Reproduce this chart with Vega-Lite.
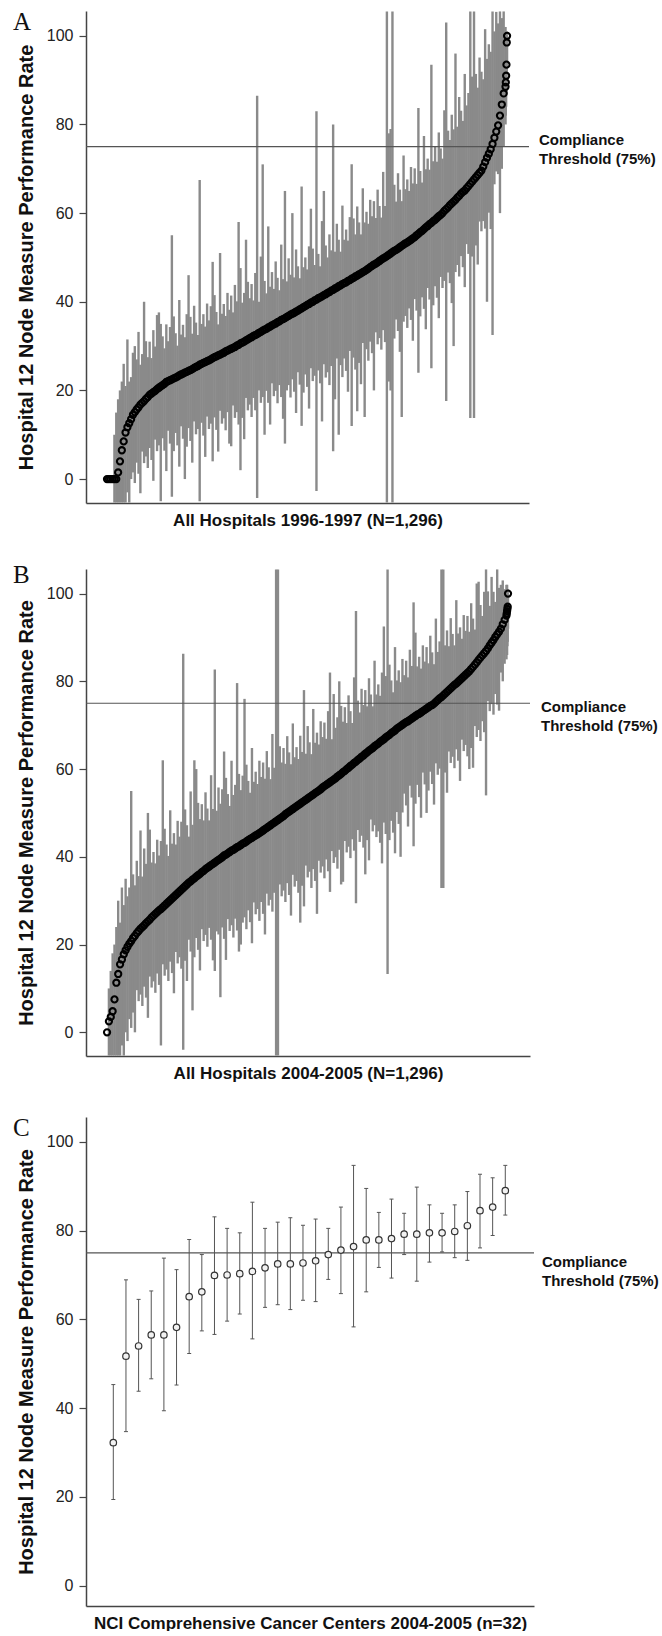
{
"$schema":"https://vega.github.io/schema/vega-lite/v6.json",
"background":"white",
"padding":{"left":13,"top":10,"right":0,"bottom":0},
"spacing":35,
"config":{"view":{"stroke":null},"font":"Liberation Sans",
"axis":{"grid":false,"domainColor":"#444","domainWidth":1.5,"tickColor":"#444","tickWidth":1.2,"labelFont":"Liberation Sans","titleFont":"Liberation Sans","labelColor":"#222","titleColor":"#111"},
"axisX":{"labels":false,"ticks":false,"titleFontSize":17,"titleFontWeight":"bold","titlePadding":9},
"axisY":{"tickSize":7,"labelFontSize":16,"labelPadding":6,"titleFontSize":20,"titleFontWeight":"bold","titlePadding":10}},
"datasets":{
"a":[{"r":1,"p":0,"l":0,"h":0},{"r":7,"p":0,"l":0,"h":0},{"r":13,"p":0,"l":0,"h":0},{"r":19,"p":0,"l":0,"h":0},{"r":25,"p":0,"l":-5.3,"h":10},{"r":31,"p":0,"l":-5.3,"h":15},{"r":37,"p":1.5,"l":-5.3,"h":18},{"r":43,"p":4,"l":-5.3,"h":20},{"r":49,"p":6.5,"l":-5.3,"h":22},{"r":55,"p":8.5,"l":-5.3,"h":26},{"r":61,"p":10.5,"l":-5.3,"h":21},{"r":67,"p":11.7,"l":-3,"h":31.5},{"r":73,"p":12.6,"l":-5.3,"h":22},{"r":79,"p":13.5,"l":0,"h":23},{"r":85,"p":14.5,"l":1.5,"h":28.5},{"r":91,"p":15.1,"l":-0.9,"h":30},{"r":97,"p":15.7,"l":3.7,"h":27},{"r":103,"p":16.2,"l":1.2,"h":33.2},{"r":109,"p":16.8,"l":-3.2,"h":25.8},{"r":115,"p":17.2,"l":6.2,"h":28.2},{"r":121,"p":17.6,"l":3.6,"h":40},{"r":127,"p":18.1,"l":5.1,"h":31.1},{"r":133,"p":18.5,"l":2.5,"h":27.5},{"r":139,"p":19,"l":7,"h":31},{"r":145,"p":19.3,"l":4.3,"h":27.3},{"r":151,"p":19.6,"l":-0.4,"h":33.6},{"r":157,"p":19.9,"l":8.9,"h":29.9},{"r":163,"p":20.3,"l":6.3,"h":37},{"r":169,"p":20.6,"l":7.6,"h":37.6},{"r":175,"p":20.9,"l":-5,"h":35},{"r":181,"p":21.2,"l":9.2,"h":32.2},{"r":187,"p":21.5,"l":6.4,"h":29.5},{"r":193,"p":21.9,"l":1.8,"h":34.9},{"r":199,"p":22.1,"l":10.9,"h":31.1},{"r":205,"p":22.3,"l":8,"h":34.3},{"r":211,"p":22.5,"l":-4,"h":55},{"r":217,"p":22.7,"l":6.3,"h":36.7},{"r":223,"p":22.9,"l":10.4,"h":32.9},{"r":229,"p":23.1,"l":7.6,"h":30.1},{"r":235,"p":23.4,"l":2.8,"h":40.4},{"r":241,"p":23.6,"l":11.9,"h":32.6},{"r":247,"p":23.8,"l":9.1,"h":34.8},{"r":253,"p":24,"l":0,"h":32},{"r":259,"p":24.2,"l":7.3,"h":37.2},{"r":265,"p":24.4,"l":11.5,"h":46},{"r":271,"p":24.6,"l":8.6,"h":36.6},{"r":277,"p":24.8,"l":3.7,"h":32.8},{"r":283,"p":25.1,"l":13,"h":39.1},{"r":289,"p":25.3,"l":10.1,"h":35.3},{"r":295,"p":25.5,"l":11.3,"h":32.5},{"r":301,"p":25.8,"l":-5,"h":67.5},{"r":307,"p":26,"l":12.7,"h":35},{"r":313,"p":26.2,"l":9.8,"h":37.2},{"r":319,"p":26.4,"l":5,"h":34.4},{"r":325,"p":26.6,"l":14.1,"h":39.6},{"r":331,"p":26.8,"l":11.3,"h":35.8},{"r":337,"p":27,"l":12.5,"h":39},{"r":343,"p":27.3,"l":4,"h":49},{"r":349,"p":27.5,"l":13.9,"h":41.5},{"r":355,"p":27.7,"l":11.1,"h":37.7},{"r":361,"p":27.9,"l":6.2,"h":34.9},{"r":367,"p":28.1,"l":15.4,"h":51},{"r":373,"p":28.3,"l":12.5,"h":37.3},{"r":379,"p":28.5,"l":13.7,"h":39.5},{"r":385,"p":28.8,"l":11,"h":36.8},{"r":391,"p":29,"l":15.1,"h":42},{"r":397,"p":29.2,"l":8,"h":38.2},{"r":403,"p":29.4,"l":7.4,"h":41.4},{"r":409,"p":29.6,"l":16.6,"h":37.6},{"r":415,"p":29.8,"l":13.8,"h":43.8},{"r":421,"p":30.1,"l":15.1,"h":40.1},{"r":427,"p":30.3,"l":12.3,"h":58},{"r":433,"p":30.6,"l":2,"h":47.6},{"r":439,"p":30.8,"l":13.8,"h":39.8},{"r":445,"p":31,"l":9,"h":42},{"r":451,"p":31.3,"l":18.3,"h":54},{"r":457,"p":31.5,"l":15.5,"h":44.5},{"r":463,"p":31.8,"l":16.8,"h":40.8},{"r":469,"p":32,"l":14,"h":44},{"r":475,"p":32.3,"l":18.3,"h":40.3},{"r":481,"p":32.5,"l":15.5,"h":46.5},{"r":487,"p":32.7,"l":-4.3,"h":86.5},{"r":493,"p":33,"l":20,"h":40},{"r":499,"p":33.2,"l":17.2,"h":50.2},{"r":505,"p":33.5,"l":18.5,"h":71},{"r":511,"p":33.7,"l":10,"h":44.7},{"r":517,"p":33.9,"l":19.9,"h":41.9},{"r":523,"p":34.2,"l":17.2,"h":57},{"r":529,"p":34.4,"l":12.3,"h":43.4},{"r":535,"p":34.7,"l":21.6,"h":46.7},{"r":541,"p":34.9,"l":18.7,"h":42.9},{"r":547,"p":35.1,"l":19.9,"h":49.1},{"r":553,"p":35.4,"l":17.1,"h":45.4},{"r":559,"p":35.6,"l":21.2,"h":42.6},{"r":565,"p":35.9,"l":18.5,"h":52.9},{"r":571,"p":36.1,"l":13.6,"h":45.1},{"r":577,"p":36.3,"l":8,"h":65},{"r":583,"p":36.6,"l":20,"h":44.6},{"r":589,"p":36.8,"l":21.2,"h":49.8},{"r":595,"p":37.1,"l":18.4,"h":46.1},{"r":601,"p":37.3,"l":22.5,"h":60},{"r":607,"p":37.5,"l":19.7,"h":45.5},{"r":613,"p":37.8,"l":14.9,"h":51.8},{"r":619,"p":38,"l":24.1,"h":48},{"r":625,"p":38.3,"l":21.3,"h":45.3},{"r":631,"p":38.5,"l":12,"h":66},{"r":637,"p":38.8,"l":19.5,"h":47.8},{"r":643,"p":39,"l":23.6,"h":50},{"r":649,"p":39.3,"l":20.8,"h":47.3},{"r":655,"p":39.5,"l":15.9,"h":52.5},{"r":661,"p":39.8,"l":25,"h":61},{"r":667,"p":40,"l":22.1,"h":52},{"r":673,"p":40.3,"l":23.3,"h":48.3},{"r":679,"p":40.5,"l":-2.7,"h":83},{"r":685,"p":40.8,"l":24.5,"h":50.8},{"r":691,"p":41,"l":21.6,"h":48},{"r":697,"p":41.2,"l":13,"h":58.2},{"r":703,"p":41.5,"l":25.9,"h":65},{"r":709,"p":41.7,"l":22.9,"h":52.7},{"r":715,"p":42,"l":24.1,"h":50},{"r":721,"p":42.2,"l":21.2,"h":55.2},{"r":727,"p":42.5,"l":25.5,"h":51.6},{"r":733,"p":42.7,"l":6.3,"h":80},{"r":739,"p":43,"l":18,"h":51.3},{"r":745,"p":43.2,"l":27.2,"h":57.6},{"r":751,"p":43.5,"l":10,"h":54},{"r":757,"p":43.7,"l":25.7,"h":51.3},{"r":763,"p":44,"l":23,"h":61.7},{"r":769,"p":44.2,"l":27.2,"h":54},{"r":775,"p":44.4,"l":24.4,"h":56.3},{"r":781,"p":44.7,"l":19.7,"h":53.8},{"r":787,"p":44.9,"l":28.9,"h":59.1},{"r":793,"p":45.2,"l":12,"h":71},{"r":799,"p":45.4,"l":27.4,"h":58.8},{"r":805,"p":45.7,"l":24.7,"h":55.2},{"r":811,"p":45.9,"l":15.3,"h":61.5},{"r":817,"p":46.2,"l":26.2,"h":57.9},{"r":823,"p":46.4,"l":21.4,"h":55.2},{"r":829,"p":46.7,"l":30.7,"h":65.6},{"r":835,"p":46.9,"l":14,"h":57.9},{"r":841,"p":47.2,"l":29.3,"h":60.3},{"r":847,"p":47.5,"l":26.7,"h":57.6},{"r":853,"p":47.8,"l":31,"h":63},{"r":859,"p":48.1,"l":28.4,"h":59.3},{"r":865,"p":48.4,"l":20,"h":62.7},{"r":871,"p":48.6,"l":33.1,"h":58.9},{"r":877,"p":48.9,"l":30.4,"h":65.3},{"r":883,"p":49.2,"l":31.8,"h":61.6},{"r":889,"p":49.5,"l":29.2,"h":59},{"r":895,"p":49.8,"l":33.6,"h":69.3},{"r":901,"p":50,"l":30.9,"h":61.6},{"r":907,"p":50.3,"l":-5.3,"h":105.5},{"r":913,"p":50.6,"l":22,"h":78},{"r":919,"p":50.9,"l":20,"h":79},{"r":925,"p":51.2,"l":-5.3,"h":105.5},{"r":931,"p":51.5,"l":31.7,"h":66.4},{"r":937,"p":51.7,"l":36,"h":62.6},{"r":943,"p":52,"l":33.4,"h":69},{"r":949,"p":52.3,"l":28.7,"h":65.3},{"r":955,"p":52.6,"l":14,"h":62.7},{"r":961,"p":52.9,"l":35.5,"h":73},{"r":967,"p":53.2,"l":36.8,"h":65.4},{"r":973,"p":53.4,"l":34.1,"h":67.6},{"r":979,"p":53.7,"l":38.5,"h":65},{"r":985,"p":54,"l":35.9,"h":70.4},{"r":991,"p":54.3,"l":31.2,"h":66.7},{"r":997,"p":54.6,"l":40.6,"h":70.1},{"r":1003,"p":55,"l":38,"h":66.6},{"r":1009,"p":55.3,"l":24,"h":83.7},{"r":1015,"p":55.7,"l":36.7,"h":69.5},{"r":1021,"p":56,"l":41,"h":66.9},{"r":1027,"p":56.4,"l":38.4,"h":77.4},{"r":1033,"p":56.8,"l":33.8,"h":69.9},{"r":1039,"p":57.1,"l":43.1,"h":72.3},{"r":1045,"p":57.5,"l":40.5,"h":69.8},{"r":1051,"p":57.8,"l":25,"h":93.5},{"r":1057,"p":58.2,"l":39.2,"h":71.7},{"r":1063,"p":58.5,"l":43.5,"h":75.1},{"r":1069,"p":58.9,"l":40.9,"h":71.6},{"r":1075,"p":59.3,"l":36.3,"h":78.2},{"r":1081,"p":59.6,"l":45.6,"h":74.6},{"r":1087,"p":60,"l":43.1,"h":72.3},{"r":1093,"p":60.5,"l":44.7,"h":83.2},{"r":1099,"p":60.9,"l":17.6,"h":103},{"r":1105,"p":61.3,"l":46.6,"h":78.6},{"r":1111,"p":61.8,"l":44.2,"h":76.5},{"r":1117,"p":62.2,"l":39.7,"h":82.2},{"r":1123,"p":62.6,"l":30,"h":78.9},{"r":1129,"p":63,"l":46.7,"h":96},{"r":1135,"p":63.5,"l":48.3,"h":79.5},{"r":1141,"p":63.9,"l":45.7,"h":86.2},{"r":1147,"p":64.4,"l":50.3,"h":83.1},{"r":1153,"p":64.8,"l":47.8,"h":80.8},{"r":1159,"p":65.1,"l":43.3,"h":91.4},{"r":1165,"p":65.6,"l":53,"h":84.3},{"r":1171,"p":66.1,"l":50.8,"h":87.1},{"r":1177,"p":66.6,"l":13.8,"h":105.5},{"r":1183,"p":67.1,"l":50.2,"h":90.8},{"r":1189,"p":67.6,"l":13.8,"h":105.5},{"r":1195,"p":68.1,"l":52.7,"h":91.4},{"r":1201,"p":68.6,"l":48.4,"h":88.3},{"r":1207,"p":69.1,"l":58.1,"h":95.1},{"r":1213,"p":69.6,"l":55.9,"h":91.9},{"r":1219,"p":70.5,"l":58.2,"h":90.2},{"r":1225,"p":71.5,"l":56.5,"h":101.5},{"r":1231,"p":72.5,"l":40,"h":94.8},{"r":1237,"p":73.4,"l":60.1,"h":98.1},{"r":1243,"p":74.4,"l":56.4,"h":96.4},{"r":1249,"p":75.6,"l":32.5,"h":105.5},{"r":1255,"p":77,"l":66.5,"h":101},{"r":1261,"p":78.4,"l":69.4,"h":105.4},{"r":1267,"p":79.8,"l":68.8,"h":102.8},{"r":1273,"p":82,"l":60,"h":105.5},{"r":1279,"p":84.5,"l":70,"h":104},{"r":1285,"p":87,"l":75,"h":105.5},{"r":1291,"p":88.5,"l":80,"h":102},{"r":1292,"p":89.5,"l":82,"h":98},{"r":1293,"p":91,"l":84,"h":97},{"r":1294,"p":93.5,"l":87,"h":100},{"r":1295,"p":98.5,"l":92,"h":101},{"r":1296,"p":100,"l":94,"h":100}],
"b":[{"r":1,"p":0,"l":0,"h":0},{"r":7,"p":2.5,"l":-5.3,"h":10},{"r":13,"p":3.5,"l":-5.3,"h":14},{"r":19,"p":4.8,"l":-5.3,"h":18},{"r":25,"p":7.5,"l":-5.3,"h":20},{"r":31,"p":11.3,"l":-5.3,"h":24},{"r":37,"p":13.3,"l":-5.3,"h":30},{"r":43,"p":15.5,"l":-5.3,"h":25},{"r":49,"p":16.6,"l":-3,"h":33},{"r":55,"p":17.8,"l":-5.3,"h":29},{"r":61,"p":18.7,"l":0,"h":35},{"r":67,"p":19.5,"l":-2,"h":31},{"r":73,"p":20.2,"l":3,"h":33},{"r":79,"p":20.8,"l":1,"h":55},{"r":85,"p":21.5,"l":4.5,"h":36},{"r":91,"p":22,"l":0,"h":33.5},{"r":97,"p":22.6,"l":9.6,"h":39.1},{"r":103,"p":23.1,"l":7.1,"h":35.6},{"r":109,"p":23.6,"l":8.6,"h":46},{"r":115,"p":24,"l":6,"h":35.5},{"r":121,"p":24.4,"l":10.4,"h":41.9},{"r":127,"p":24.9,"l":7.9,"h":38.4},{"r":133,"p":25.3,"l":3.3,"h":50},{"r":139,"p":25.7,"l":12.7,"h":46.2},{"r":145,"p":26.2,"l":10.2,"h":38.7},{"r":151,"p":26.6,"l":11.6,"h":41.1},{"r":157,"p":27,"l":9,"h":38.5},{"r":163,"p":27.4,"l":13.4,"h":43.9},{"r":169,"p":27.8,"l":10.8,"h":40.3},{"r":175,"p":28.1,"l":-3,"h":43.6},{"r":181,"p":28.5,"l":15.5,"h":62},{"r":187,"p":28.9,"l":12.9,"h":46.4},{"r":193,"p":29.3,"l":14.3,"h":42.8},{"r":199,"p":29.7,"l":11.7,"h":40.2},{"r":205,"p":30.1,"l":16.1,"h":50.6},{"r":211,"p":30.5,"l":13.5,"h":43},{"r":217,"p":30.9,"l":8.9,"h":45.4},{"r":223,"p":31.3,"l":18.3,"h":42.8},{"r":229,"p":31.7,"l":15.7,"h":48.2},{"r":235,"p":32.1,"l":17.1,"h":44.6},{"r":241,"p":32.5,"l":14.5,"h":48},{"r":247,"p":32.9,"l":-4,"h":86.3},{"r":253,"p":33.3,"l":16.3,"h":50.8},{"r":259,"p":33.7,"l":11.7,"h":47.2},{"r":265,"p":34.1,"l":21.1,"h":44.6},{"r":271,"p":34.4,"l":18.4,"h":54.9},{"r":277,"p":34.8,"l":5,"h":47.3},{"r":283,"p":35.1,"l":17.1,"h":62},{"r":289,"p":35.5,"l":21.5,"h":60},{"r":295,"p":35.8,"l":18.8,"h":52.3},{"r":301,"p":36.1,"l":14.1,"h":48.6},{"r":307,"p":36.5,"l":23.5,"h":52},{"r":313,"p":36.8,"l":20.8,"h":48.3},{"r":319,"p":37.2,"l":22.2,"h":54.7},{"r":325,"p":37.5,"l":19.5,"h":51},{"r":331,"p":37.8,"l":23.8,"h":48.3},{"r":337,"p":38.1,"l":21.1,"h":58.6},{"r":343,"p":38.4,"l":16.4,"h":50.9},{"r":349,"p":38.7,"l":14,"h":82.7},{"r":355,"p":39,"l":23,"h":50.5},{"r":361,"p":39.3,"l":22.3,"h":55.8},{"r":367,"p":39.6,"l":8,"h":52.1},{"r":373,"p":39.9,"l":23.9,"h":55.4},{"r":379,"p":40.3,"l":21.3,"h":64},{"r":385,"p":40.5,"l":16.5,"h":58},{"r":391,"p":40.8,"l":25.8,"h":54.3},{"r":397,"p":41.1,"l":23.1,"h":51.6},{"r":403,"p":41.4,"l":24.4,"h":61.9},{"r":409,"p":41.6,"l":21.6,"h":54.1},{"r":415,"p":41.9,"l":25.9,"h":56.4},{"r":421,"p":42.2,"l":23.2,"h":79.6},{"r":427,"p":42.4,"l":18.4,"h":58.9},{"r":433,"p":42.7,"l":20,"h":55.2},{"r":439,"p":43,"l":25,"h":58.5},{"r":445,"p":43.2,"l":26.2,"h":76},{"r":451,"p":43.5,"l":23.5,"h":61},{"r":457,"p":43.8,"l":27.8,"h":57.3},{"r":463,"p":44.1,"l":25.1,"h":54.6},{"r":469,"p":44.3,"l":20.3,"h":64.8},{"r":475,"p":44.6,"l":29.6,"h":57.1},{"r":481,"p":44.9,"l":26.9,"h":59.4},{"r":487,"p":45.1,"l":28.1,"h":56.6},{"r":493,"p":45.4,"l":25.4,"h":61.9},{"r":499,"p":45.7,"l":29.7,"h":58.2},{"r":505,"p":46,"l":27,"h":61.5},{"r":511,"p":46.3,"l":22.3,"h":57.8},{"r":517,"p":46.6,"l":31.6,"h":64.1},{"r":523,"p":46.9,"l":28.9,"h":60.4},{"r":529,"p":47.2,"l":30.2,"h":57.7},{"r":535,"p":47.5,"l":27.5,"h":68},{"r":541,"p":47.8,"l":31.8,"h":60.3},{"r":547,"p":48.1,"l":-5.3,"h":105.5},{"r":553,"p":48.4,"l":-5.3,"h":105.5},{"r":559,"p":48.7,"l":33.7,"h":65.2},{"r":565,"p":49,"l":31,"h":61.5},{"r":571,"p":49.3,"l":32.3,"h":64.8},{"r":577,"p":49.7,"l":29.7,"h":61.2},{"r":583,"p":50,"l":34,"h":67.5},{"r":589,"p":50.3,"l":31.3,"h":63.8},{"r":595,"p":50.6,"l":26.6,"h":61.1},{"r":601,"p":50.9,"l":35.9,"h":70.4},{"r":607,"p":51.2,"l":33.2,"h":62.7},{"r":613,"p":51.5,"l":34.5,"h":65},{"r":619,"p":51.8,"l":31.8,"h":62.3},{"r":625,"p":52.1,"l":25,"h":67.6},{"r":631,"p":52.4,"l":33.4,"h":63.9},{"r":637,"p":52.7,"l":28.7,"h":78},{"r":643,"p":53,"l":38,"h":63.5},{"r":649,"p":53.3,"l":35.3,"h":69.8},{"r":655,"p":53.6,"l":36.6,"h":66.1},{"r":661,"p":53.9,"l":32.9,"h":63.4},{"r":667,"p":54.2,"l":37.2,"h":73.7},{"r":673,"p":54.5,"l":34.5,"h":66},{"r":679,"p":54.8,"l":27,"h":68.3},{"r":685,"p":55.1,"l":39.1,"h":65.6},{"r":691,"p":55.4,"l":36.4,"h":70.9},{"r":697,"p":55.8,"l":37.8,"h":67.3},{"r":703,"p":56.1,"l":35.1,"h":70.6},{"r":709,"p":56.4,"l":39.4,"h":66.9},{"r":715,"p":56.7,"l":36.7,"h":73.2},{"r":721,"p":57,"l":32,"h":82},{"r":727,"p":57.3,"l":41.3,"h":66.8},{"r":733,"p":57.6,"l":38.6,"h":77.1},{"r":739,"p":57.9,"l":39.9,"h":69.4},{"r":745,"p":58.3,"l":37.3,"h":71.8},{"r":751,"p":58.6,"l":41.6,"h":80},{"r":757,"p":58.9,"l":33.7,"h":74.4},{"r":763,"p":59.3,"l":34.3,"h":70.8},{"r":769,"p":59.6,"l":43.6,"h":74.1},{"r":775,"p":60,"l":41,"h":70.5},{"r":781,"p":60.3,"l":42.3,"h":76.8},{"r":787,"p":60.7,"l":39.7,"h":73.2},{"r":793,"p":61,"l":44,"h":70.5},{"r":799,"p":61.4,"l":41.4,"h":80.9},{"r":805,"p":61.7,"l":29.4,"h":96},{"r":811,"p":62.1,"l":46.1,"h":75.6},{"r":817,"p":62.4,"l":43.4,"h":72.9},{"r":823,"p":62.8,"l":44.8,"h":78.3},{"r":829,"p":63.1,"l":42.1,"h":74.6},{"r":835,"p":63.5,"l":36,"h":78},{"r":841,"p":63.8,"l":43.8,"h":74.3},{"r":847,"p":64.2,"l":39.2,"h":80.7},{"r":853,"p":64.5,"l":48.5,"h":77},{"r":859,"p":64.8,"l":45.8,"h":74.3},{"r":865,"p":65.2,"l":47.2,"h":84.7},{"r":871,"p":65.5,"l":44.5,"h":77},{"r":877,"p":65.8,"l":45.8,"h":79.3},{"r":883,"p":66.2,"l":43.2,"h":76.7},{"r":889,"p":66.5,"l":38.5,"h":82},{"r":895,"p":66.8,"l":47.8,"h":92.5},{"r":901,"p":67.2,"l":45.2,"h":81.2},{"r":907,"p":67.5,"l":13.3,"h":105.5},{"r":913,"p":67.8,"l":43.8,"h":83.8},{"r":919,"p":68.2,"l":48.2,"h":80.2},{"r":925,"p":68.5,"l":45.5,"h":77.5},{"r":931,"p":68.8,"l":40.8,"h":87.8},{"r":937,"p":69.2,"l":50.2,"h":80.2},{"r":943,"p":69.5,"l":47.5,"h":82.5},{"r":949,"p":69.8,"l":40,"h":79.8},{"r":955,"p":70.1,"l":50.1,"h":85.1},{"r":961,"p":70.4,"l":54.4,"h":81.4},{"r":967,"p":70.7,"l":51.7,"h":84.7},{"r":973,"p":70.9,"l":46.9,"h":80.9},{"r":979,"p":71.2,"l":56.2,"h":87.2},{"r":985,"p":71.5,"l":53.5,"h":83.5},{"r":991,"p":71.8,"l":42.4,"h":98},{"r":997,"p":72.1,"l":52.1,"h":91.1},{"r":1003,"p":72.4,"l":56.4,"h":83.4},{"r":1009,"p":72.6,"l":53.6,"h":85.6},{"r":1015,"p":72.9,"l":48.9,"h":82.9},{"r":1021,"p":73.2,"l":59.2,"h":88.2},{"r":1027,"p":73.5,"l":56.5,"h":84.5},{"r":1033,"p":73.8,"l":50,"h":87.8},{"r":1039,"p":74.1,"l":55.1,"h":84.1},{"r":1045,"p":74.4,"l":59.4,"h":90.4},{"r":1051,"p":74.6,"l":56.6,"h":86.6},{"r":1057,"p":74.9,"l":51.9,"h":83.9},{"r":1063,"p":75.3,"l":61.3,"h":94.3},{"r":1069,"p":75.7,"l":58.7,"h":86.7},{"r":1075,"p":76.1,"l":60.1,"h":89.1},{"r":1081,"p":76.4,"l":32.9,"h":105.5},{"r":1087,"p":76.8,"l":32.9,"h":105.5},{"r":1093,"p":77.2,"l":59.2,"h":88.2},{"r":1099,"p":77.6,"l":54.6,"h":91.6},{"r":1105,"p":78,"l":64,"h":88},{"r":1111,"p":78.4,"l":61.4,"h":94.4},{"r":1117,"p":78.8,"l":62.8,"h":90.8},{"r":1123,"p":79.2,"l":60.2,"h":88.2},{"r":1129,"p":79.5,"l":64.5,"h":98.5},{"r":1135,"p":79.9,"l":61.9,"h":90.9},{"r":1141,"p":80.3,"l":57.3,"h":92.3},{"r":1147,"p":80.7,"l":66.7,"h":89.7},{"r":1153,"p":81.1,"l":64.1,"h":95.1},{"r":1159,"p":81.5,"l":65.5,"h":91.5},{"r":1165,"p":81.9,"l":62.9,"h":94.9},{"r":1171,"p":82.3,"l":60,"h":91.3},{"r":1177,"p":82.8,"l":64.8,"h":97.8},{"r":1183,"p":83.3,"l":60.3,"h":94.3},{"r":1189,"p":83.8,"l":69.8,"h":91.8},{"r":1195,"p":84.3,"l":67.3,"h":102.3},{"r":1201,"p":84.9,"l":68.9,"h":102.7},{"r":1207,"p":85.4,"l":66.4,"h":97.4},{"r":1213,"p":85.9,"l":70.9,"h":94.9},{"r":1219,"p":86.4,"l":68.4,"h":100.4},{"r":1225,"p":86.9,"l":54,"h":105.5},{"r":1231,"p":87.5,"l":75.5,"h":100.5},{"r":1237,"p":88.2,"l":73.2,"h":97.2},{"r":1243,"p":88.8,"l":74.8,"h":103.8},{"r":1249,"p":89.4,"l":72.4,"h":100.4},{"r":1255,"p":90.1,"l":77.1,"h":98.1},{"r":1261,"p":90.7,"l":74.7,"h":105.5},{"r":1267,"p":91.3,"l":73.3,"h":101.3},{"r":1273,"p":92,"l":82,"h":102},{"r":1279,"p":93,"l":80,"h":103},{"r":1285,"p":94,"l":84,"h":101},{"r":1291,"p":95,"l":85,"h":102},{"r":1292,"p":95.5,"l":87,"h":101},{"r":1293,"p":96,"l":86,"h":102},{"r":1294,"p":96.5,"l":88,"h":100},{"r":1295,"p":97,"l":89,"h":101},{"r":1296,"p":100,"l":92,"h":100}],
"c":[{"i":1,"p":32.2,"l":19.4,"h":45.3},{"i":2,"p":51.7,"l":34.7,"h":68.9},{"i":3,"p":54.0,"l":43.8,"h":64.5},{"i":4,"p":56.5,"l":46.6,"h":66.4},{"i":5,"p":56.5,"l":39.4,"h":73.8},{"i":6,"p":58.2,"l":45.2,"h":71.2},{"i":7,"p":65.1,"l":52.3,"h":78.0},{"i":8,"p":66.2,"l":57.4,"h":74.6},{"i":9,"p":69.9,"l":56.6,"h":83.1},{"i":10,"p":70.0,"l":59.6,"h":80.5},{"i":11,"p":70.3,"l":61.2,"h":79.5},{"i":12,"p":70.8,"l":55.6,"h":86.4},{"i":13,"p":71.6,"l":62.7,"h":80.5},{"i":14,"p":72.5,"l":63.3,"h":81.9},{"i":15,"p":72.5,"l":62.2,"h":82.9},{"i":16,"p":72.7,"l":64.3,"h":81.2},{"i":17,"p":73.2,"l":64.0,"h":82.6},{"i":18,"p":74.6,"l":69.0,"h":80.5},{"i":19,"p":75.6,"l":65.8,"h":85.3},{"i":20,"p":76.4,"l":58.3,"h":94.7},{"i":21,"p":77.9,"l":66.2,"h":89.5},{"i":22,"p":77.9,"l":71.7,"h":84.1},{"i":23,"p":78.2,"l":69.3,"h":87.1},{"i":24,"p":79.2,"l":74.6,"h":83.9},{"i":25,"p":79.2,"l":68.6,"h":89.8},{"i":26,"p":79.5,"l":72.9,"h":85.8},{"i":27,"p":79.5,"l":75.2,"h":83.9},{"i":28,"p":79.8,"l":73.9,"h":85.8},{"i":29,"p":81.1,"l":73.3,"h":88.8},{"i":30,"p":84.5,"l":76.1,"h":92.7},{"i":31,"p":85.3,"l":78.9,"h":91.9},{"i":32,"p":89.0,"l":83.5,"h":94.7}]
},
"vconcat":[
{"width":443,"height":492,
"layer":[
{"data":{"name":"a"},"mark":{"type":"rule","color":"#8a8a8a","strokeWidth":2.4},
"encoding":{"x":{"field":"r","type":"quantitative","scale":{"domain":[-67,1367],"nice":false,"zero":false},"axis":{"title":"All Hospitals 1996-1997 (N=1,296)"}},
"y":{"field":"l","type":"quantitative","scale":{"domain":[-5.4,105.6],"nice":false,"zero":false},"axis":{"title":"Hospital 12 Node Measure Performance Rate","values":[0,20,40,60,80,100]}},
"y2":{"field":"h"}}},
{"data":{"values":[{}]},"mark":{"type":"rule","color":"#555","strokeWidth":1.2},"encoding":{"y":{"datum":75}}},
{"data":{"name":"a"},"mark":{"type":"point","shape":"circle","filled":false,"color":"#000","size":38,"strokeWidth":2.1,"opacity":1},
"encoding":{"x":{"field":"r","type":"quantitative"},"y":{"field":"p","type":"quantitative"}}},
{"data":{"values":[{}]},"mark":{"type":"text","align":"left","baseline":"middle","fontSize":15,"fontWeight":"bold","lineBreak":"\n","lineHeight":19,"dx":10,"dy":-7,"color":"#111"},
"encoding":{"x":{"datum":1367},"y":{"datum":75},"text":{"value":"Compliance\nThreshold (75%)"}}},
{"data":{"values":[{}]},"mark":{"type":"text","align":"left","baseline":"alphabetic","font":"Liberation Serif","fontSize":25,"dx":-73,"dy":19,"color":"#111"},
"encoding":{"x":{"datum":-67},"y":{"datum":105.6},"text":{"value":"A"}}}
]},
{"width":444,"height":487,
"layer":[
{"data":{"name":"b"},"mark":{"type":"rule","color":"#8a8a8a","strokeWidth":2.4},
"encoding":{"x":{"field":"r","type":"quantitative","scale":{"domain":[-67,1367],"nice":false,"zero":false},"axis":{"title":"All Hospitals 2004-2005 (N=1,296)"}},
"y":{"field":"l","type":"quantitative","scale":{"domain":[-5.4,105.6],"nice":false,"zero":false},"axis":{"title":"Hospital 12 Node Measure Performance Rate","values":[0,20,40,60,80,100]}},
"y2":{"field":"h"}}},
{"data":{"values":[{}]},"mark":{"type":"rule","color":"#555","strokeWidth":1.2},"encoding":{"y":{"datum":75}}},
{"data":{"name":"b"},"mark":{"type":"point","shape":"circle","filled":false,"color":"#000","size":38,"strokeWidth":2.1,"opacity":1},
"encoding":{"x":{"field":"r","type":"quantitative"},"y":{"field":"p","type":"quantitative"}}},
{"data":{"values":[{}]},"mark":{"type":"text","align":"left","baseline":"middle","fontSize":15,"fontWeight":"bold","lineBreak":"\n","lineHeight":19,"dx":11,"dy":3.5,"color":"#111"},
"encoding":{"x":{"datum":1367},"y":{"datum":75},"text":{"value":"Compliance\nThreshold (75%)"}}},
{"data":{"values":[{}]},"mark":{"type":"text","align":"left","baseline":"alphabetic","font":"Liberation Serif","fontSize":25,"dx":-73,"dy":14,"color":"#111"},
"encoding":{"x":{"datum":-67},"y":{"datum":105.6},"text":{"value":"B"}}}
]},
{"width":448,"height":489,
"layer":[
{"data":{"name":"c"},"mark":{"type":"rule","color":"#555","strokeWidth":1},
"encoding":{"x":{"field":"i","type":"quantitative","scale":{"domain":[-1.16,34.27],"nice":false,"zero":false},"axis":{"title":"NCI Comprehensive Cancer Centers 2004-2005 (n=32)"}},
"y":{"field":"l","type":"quantitative","scale":{"domain":[-4.6,105.6],"nice":false,"zero":false},"axis":{"title":"Hospital 12 Node Measure Performance Rate","values":[0,20,40,60,80,100]}},
"y2":{"field":"h"}}},
{"data":{"name":"c"},"mark":{"type":"tick","orient":"horizontal","size":4,"thickness":1,"color":"#555","opacity":1},
"encoding":{"x":{"field":"i","type":"quantitative"},"y":{"field":"l","type":"quantitative"}}},
{"data":{"name":"c"},"mark":{"type":"tick","orient":"horizontal","size":4,"thickness":1,"color":"#555","opacity":1},
"encoding":{"x":{"field":"i","type":"quantitative"},"y":{"field":"h","type":"quantitative"}}},
{"data":{"values":[{}]},"mark":{"type":"rule","color":"#555","strokeWidth":1.2},"encoding":{"y":{"datum":75}}},
{"data":{"name":"c"},"mark":{"type":"point","shape":"circle","filled":true,"fill":"#f2f2f2","stroke":"#333","strokeWidth":1.2,"size":42,"opacity":1},
"encoding":{"x":{"field":"i","type":"quantitative"},"y":{"field":"p","type":"quantitative"}}},
{"data":{"values":[{}]},"mark":{"type":"text","align":"left","baseline":"middle","fontSize":15,"fontWeight":"bold","lineBreak":"\n","lineHeight":19,"dx":8,"dy":9.5,"color":"#111"},
"encoding":{"x":{"datum":34.27},"y":{"datum":75},"text":{"value":"Compliance\nThreshold (75%)"}}},
{"data":{"values":[{}]},"mark":{"type":"text","align":"left","baseline":"alphabetic","font":"Liberation Serif","fontSize":25,"dx":-73,"dy":19,"color":"#111"},
"encoding":{"x":{"datum":-1.16},"y":{"datum":105.6},"text":{"value":"C"}}}
]}
]
}
